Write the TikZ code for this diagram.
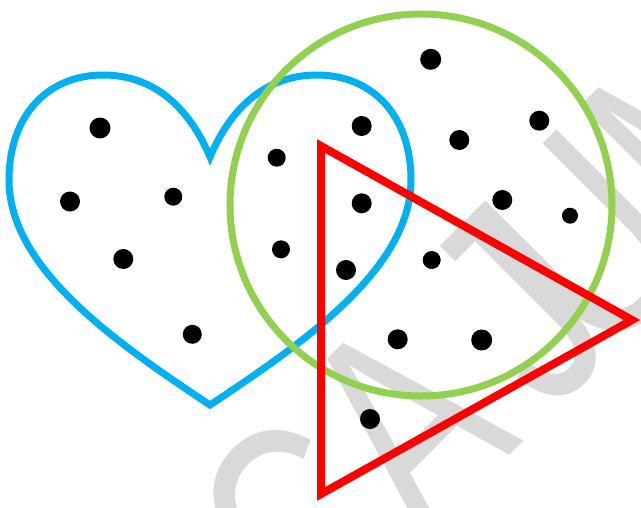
\documentclass[tikz,border=0pt]{standalone}
\usepackage{fontspec}
\newfontfamily\wmfont{Liberation Sans}
\definecolor{wmgray}{HTML}{D9D9D9}
\definecolor{heartblue}{HTML}{00B0F0}
\definecolor{circgreen}{HTML}{92D050}
\definecolor{trired}{HTML}{FF0000}
\tikzset{
  wm/.style={anchor=base, rotate=45, xscale=0.74, transform shape, inner sep=0pt,
    text=wmgray, font=\wmfont\fontsize{286}{286}\selectfont},
  heartline/.style={draw=heartblue, line width=7pt, line join=miter},
  circline/.style={draw=circgreen, line width=7pt},
  triline/.style={draw=trired, line width=8pt, line join=miter},
  dot/.style={circle, fill=black, inner sep=0pt, minimum size=#1},
  dot/.default=20pt
}
\begin{document}
\begin{tikzpicture}[x=1pt,y=-1pt]
\useasboundingbox (0,0) rectangle (641,507);
\clip (0,0) rectangle (641,507);
\fill[white] (0,0) rectangle (641,507);
\node[wm] (wm) at (574.4,390.6) {CA\kern47pt J\kern-47pt UM};
% heart
\draw[heartline] (210,157) .. controls (232,105) and (268,75) .. (317,75)
  .. controls (372,75) and (411,115) .. (411,180)
  .. controls (411,270) and (300,345) .. (210,405)
  .. controls (120,345) and (9,270) .. (9,180)
  .. controls (9,115) and (48,75) .. (103,75)
  .. controls (152,75) and (188,105) .. (210,157) -- cycle;
% circle
\draw[circline] (421,205) circle[radius=191];
% triangle
\coordinate (t1) at (321,146);
\coordinate (t2) at (632,320);
\coordinate (t3) at (321,494);
\draw[triline] (t1) -- (t2) -- (t3) -- cycle;
% dots
\node[dot=21pt] (d1) at (100,128) {};
\node[dot=20pt] (d2) at (70,201.5) {};
\node[dot=18pt] (d3) at (173.3,196.7) {};
\node[dot=20pt] (d4) at (123.3,259) {};
\node[dot=19pt] (d5) at (192.3,334.3) {};
\node[dot=18pt] (d6) at (276.7,157.7) {};
\node[dot=20pt] (d7) at (361.7,126) {};
\node[dot=20pt] (d8) at (361.7,203.3) {};
\node[dot=18pt] (d9) at (281,249.3) {};
\node[dot=20pt] (d10) at (346,270) {};
\node[dot=21pt] (d11) at (430.7,59.3) {};
\node[dot=20pt] (d12) at (459.3,140) {};
\node[dot=20pt] (d13) at (539.3,120.7) {};
\node[dot=20pt] (d14) at (502.3,200) {};
\node[dot=16pt] (d15) at (570,215.7) {};
\node[dot=18pt] (d16) at (431.7,260) {};
\node[dot=20pt] (d17) at (397.7,339.3) {};
\node[dot=21pt] (d18) at (481.7,340) {};
\node[dot=20pt] (d19) at (370,419) {};
\end{tikzpicture}
\end{document}
